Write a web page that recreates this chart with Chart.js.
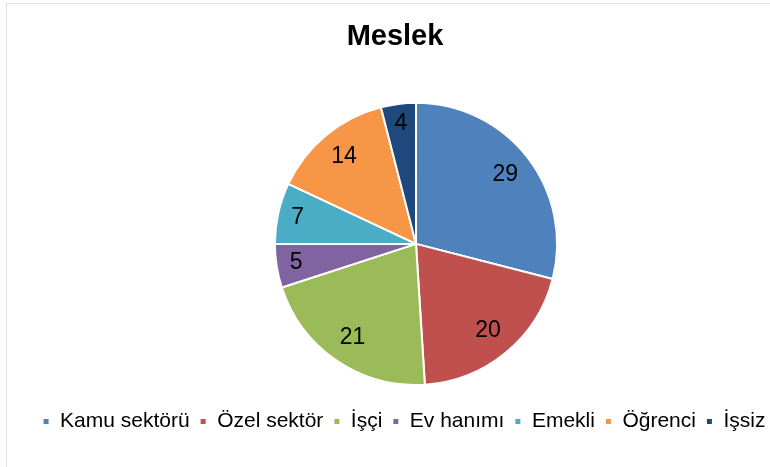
<!DOCTYPE html>
<html>
<head>
<meta charset="utf-8">
<script src="https://cdn.jsdelivr.net/npm/chart.js@4"></script>
<style>
  html, body { margin: 0; padding: 0; background: #fff; }
  #box { position: relative; width: 770px; height: 467px; }
  #frame { position: absolute; left: 6px; top: 3px; width: 780px; height: 480px; border: 1px solid #e2e2e2; }
</style>
</head>
<body>
<div id="box">
  <div id="frame"></div>
  <canvas id="pie"></canvas>
</div>
<script>
const labels = ["Kamu sektörü", "Özel sektör", "İşçi", "Ev hanımı", "Emekli", "Öğrenci", "İşsiz"];
const values = [29, 20, 21, 5, 7, 14, 4];
const colors = ["#4F81BD", "#C0504D", "#9BBB59", "#8064A2", "#4BACC6", "#F79646", "#1F497D"];

//move the pie, title and legend a bit right and leave room above the legend, like the original
const shiftPie = {
  id: "shiftPie",
  afterLayout(chart) {
    const a = chart.chartArea;
    a.left += 31;
    a.right += 31;
    a.bottom -= 15;
    a.height = a.bottom - a.top;
    chart.legend.left += 19;
    chart.legend.right += 19;
    chart.titleBlock.left += 10;
    chart.titleBlock.right += 10;
  }
};

//values written inside the slices
const sliceLabels = {
  id: "sliceLabels",
  afterDatasetsDraw(chart) {
    const ctx = chart.ctx;
    const meta = chart.getDatasetMeta(0);
    ctx.save();
    ctx.fillStyle = "#000";
    ctx.font = "23px 'Liberation Sans', Arial, sans-serif";
    ctx.textAlign = "center";
    ctx.textBaseline = "middle";
    meta.data.forEach((arc, i) => {
      const p = arc.getProps(["x", "y", "startAngle", "endAngle", "outerRadius"], true);
      const mid = (p.startAngle + p.endAngle) / 2;
      const r = p.outerRadius * (values[i] < 10 ? 0.86 : 0.8);
      ctx.fillText(String(values[i]), p.x + Math.cos(mid) * r, p.y + Math.sin(mid) * r);
    });
    ctx.restore();
  }
};

new Chart(document.getElementById("pie"), {
  type: "pie",
  plugins: [shiftPie, sliceLabels],
  data: {
    labels: labels,
    datasets: [{
      data: values,
      backgroundColor: colors,
      borderColor: "#ffffff",
      borderWidth: 2
    }]
  },
  options: {
    responsive: true,
    maintainAspectRatio: false,
    animation: false,
    layout: { padding: { left: 10, right: 10, top: 0, bottom: 25 } },
    plugins: {
      tooltip: { enabled: false },
      title: {
        display: true,
        text: "Meslek",
        color: "#000",
        font: { family: "'Liberation Sans', Arial, sans-serif", size: 29, weight: "bold" },
        padding: { top: 20, bottom: 47 }
      },
      legend: {
        position: "bottom",
        labels: {
          color: "#000",
          boxWidth: 7,
          boxHeight: 7,
          padding: 10,
          font: { family: "'Liberation Sans', Arial, sans-serif", size: 21 }
        }
      }
    }
  }
});
</script>
</body>
</html>
